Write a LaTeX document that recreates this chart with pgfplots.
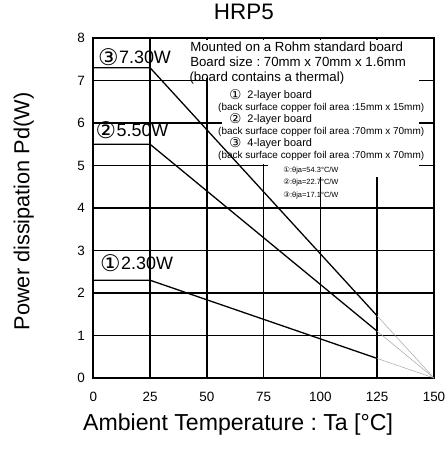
\documentclass[border=0pt]{standalone}
\usepackage{fontspec}
\setmainfont{Liberation Sans}
\newfontfamily\dv{DejaVu Sans}
\usepackage{pgfplots}
\pgfplotsset{compat=1.18}
\frenchspacing
\newcommand{\fs}[1]{\fontsize{#1}{#1}\selectfont}
\newcommand{\cn}[1]{{\dv\fontsize{23}{23}\selectfont\raisebox{-1.6bp}{#1}}\hspace{0.5bp}}
\newcommand{\cs}[1]{{\dv\fontsize{13.5}{13.5}\selectfont\raisebox{-0.8bp}{#1}}}
\begin{document}
\begin{tikzpicture}
\begin{axis}[
  scale only axis, width=340.7bp, height=340bp,
  xmin=0, xmax=150, ymin=0, ymax=8,
  xtick={0,25,...,150}, ytick={0,1,...,8},
  grid=major, major grid style={black, line width=1.5pt},
  axis line style={black, line width=1.7pt},
  major tick length=0pt,
  tick label style={font=\fs{13.5}},
  xticklabel style={yshift=-11bp},
  yticklabel style={xshift=-5bp},
  /pgf/number format/assume math mode=true,
  xlabel={Ambient Temperature : Ta [°C]},
  ylabel={Power dissipation Pd(W)},
  title={HRP5},
  xlabel style={font=\fs{23.2}, at={(axis description cs:0.425,-0.138)}, anchor=center},
  ylabel style={font=\fs{21.8}, at={(axis description cs:-0.204,0.49)}, anchor=center},
  title style={font=\fs{22.5}, at={(axis description cs:0.442,1.059)}, anchor=center},
  clip=false,
]
\coordinate (bl) at (rel axis cs:0,0);
\coordinate (tr) at (rel axis cs:1,1);
% white text boxes hiding parts of the grid
\fill[white] (axis cs:49.3,7.07) rectangle (axis cs:143.5,7.95);
\fill[white] (axis cs:50.7,6.04) rectangle (axis cs:143.5,7.07);
\fill[white] (axis cs:56.5,5.04) rectangle (axis cs:143.5,6.1);
\fill[white] (axis cs:77,4.73) rectangle (axis cs:143.5,5.06);
% annotations
\node[anchor=west, inner sep=0, font=\fs{18}] at (axis cs:2.0,7.56) {\cn{③}7.30W};
\node[anchor=west, inner sep=0, font=\fs{18}] at (axis cs:0.9,5.84) {\cn{②}5.50W};
\node[anchor=west, inner sep=0, font=\fs{18}] at (axis cs:2.9,2.70) {\cn{①}2.30W};
\node[anchor=west, inner sep=0, font=\fs{13.3}] at (axis cs:42.6,7.79) {Mounted on a Rohm standard board};
\node[anchor=west, inner sep=0, font=\fs{13.3}] at (axis cs:42.6,7.44) {Board size : 70mm x 70mm x 1.6mm};
\node[anchor=west, inner sep=0, font=\fs{13.3}] at (axis cs:42.3,7.06) {(board contains a thermal)};
\node[anchor=west, inner sep=0, font=\fs{11}] at (axis cs:59.8,6.65) {\cs{①}\ \ 2-layer board};
\node[anchor=west, inner sep=0, font=\fs{10}] at (axis cs:54.9,6.35) {(back surface copper foil area :15mm x 15mm)};
\node[anchor=west, inner sep=0, font=\fs{11}] at (axis cs:59.8,6.09) {\cs{②}\ \ 2-layer board};
\node[anchor=west, inner sep=0, font=\fs{10}] at (axis cs:54.9,5.80) {(back surface copper foil area :70mm x 70mm)};
\node[anchor=west, inner sep=0, font=\fs{11}] at (axis cs:59.8,5.52) {\cs{③}\ \ 4-layer board};
\node[anchor=west, inner sep=0, font=\fs{10}] at (axis cs:54.9,5.22) {(back surface copper foil area :70mm x 70mm)};
\node[anchor=west, inner sep=0, font=\fs{7.5}] at (axis cs:83.6,4.89) {{\dv ①}:θja=54.3°C/W};
\node[anchor=west, inner sep=0, font=\fs{7.5}] at (axis cs:83.6,4.60) {{\dv ②}:θja=22.7°C/W};
\node[anchor=west, inner sep=0, font=\fs{7.5}] at (axis cs:83.6,4.29) {{\dv ③}:θja=17.1°C/W};
% derating curves
\addplot[black, line width=1.3pt] coordinates {(0,7.3) (25,7.3) (125,1.46)};
\addplot[black, line width=1.3pt] coordinates {(0,5.5) (25,5.5) (125,1.1)};
\addplot[black, line width=1.3pt] coordinates {(0,2.3) (25,2.3) (125,0.46)};
\addplot[gray!70, line width=0.5pt] coordinates {(125,1.46) (150,0)};
\addplot[gray!70, line width=0.5pt] coordinates {(125,1.1) (150,0)};
\addplot[gray!70, line width=0.5pt] coordinates {(125,0.46) (150,0)};
\end{axis}
\pgfresetboundingbox
\path[use as bounding box] ([shift={(-93.3bp,-72bp)}]bl) rectangle ([shift={(11bp,38bp)}]tr);
\end{tikzpicture}
\end{document}
